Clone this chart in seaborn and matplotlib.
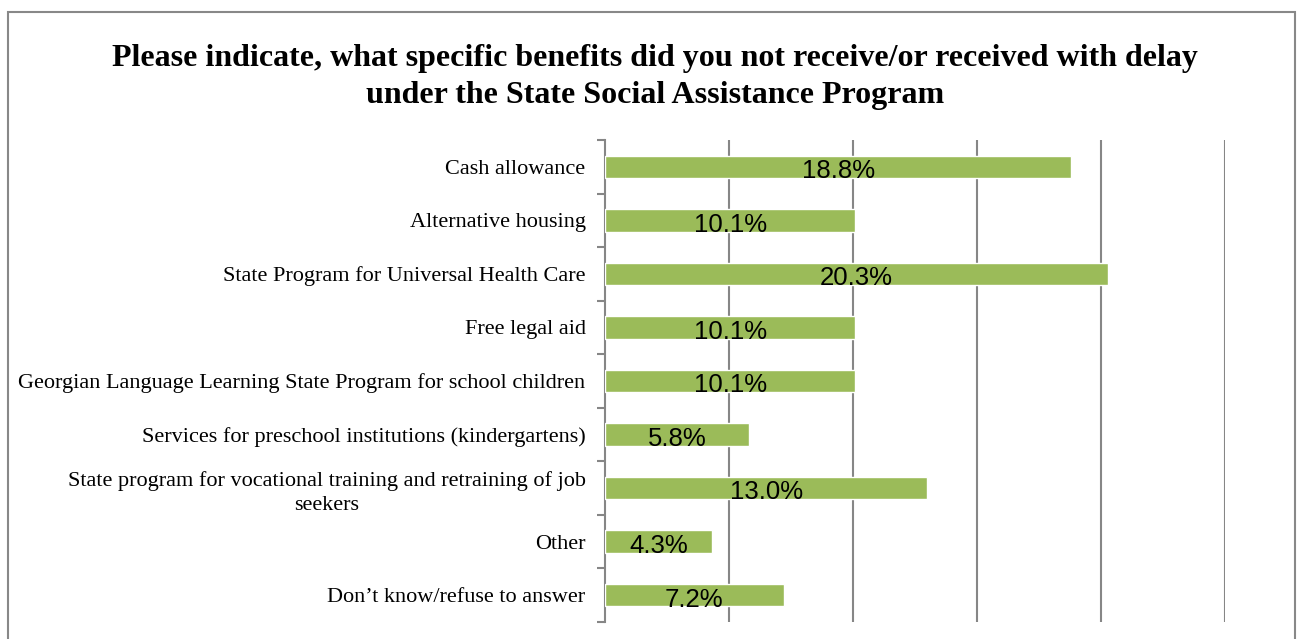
import matplotlib
matplotlib.use("Agg")
import matplotlib.pyplot as plt
from matplotlib.patches import Rectangle
import seaborn as sns
import pandas as pd
import numpy as np

categories = [
    "Cash allowance",
    "Alternative housing",
    "State Program for Universal Health Care",
    "Free legal aid",
    "Georgian Language Learning State Program for school children",
    "Services for preschool institutions (kindergartens)",
    "State program for vocational training and retraining of job\nseekers",
    "Other",
    "Don\u2019t know/refuse to answer",
]
values = [18.8, 10.1, 20.3, 10.1, 10.1, 5.8, 13.0, 4.3, 7.2]
value_labels = ["18.8%", "10.1%", "20.3%", "10.1%", "10.1%", "5.8%", "13.0%", "4.3%", "7.2%"]

title = ("Please indicate, what specific benefits did you not receive/or received with delay\n"
         "under the State Social Assistance Program")

df = pd.DataFrame({"category": categories, "value": values})

sns.set_style("white")
plt.rcParams["font.family"] = ["Liberation Serif", "DejaVu Serif"]
plt.rcParams["text.color"] = "black"

W, H = 1298, 639
fig = plt.figure(figsize=(W / 100, H / 100), dpi=100)
ax = fig.add_axes([605 / W, 1 - 622 / H, (1225 - 605) / W, (622 - 140) / H])

green = "#9BBB59"
grid_c = "#868686"

sns.barplot(data=df, x="value", y="category", order=categories, color=green,
            saturation=1, width=0.42, ax=ax, zorder=3)

ax.set_xlim(0, 25)
ax.set_ylim(len(categories) - 0.5, -0.5)
ax.set_xticks(np.arange(5, 26, 5))
ax.xaxis.grid(True, color=grid_c, linewidth=1.5, zorder=0)
ax.tick_params(axis="x", length=0, labelbottom=False)
ax.set_xlabel("")
ax.set_ylabel("")

for s in ["top", "right", "bottom"]:
    ax.spines[s].set_visible(False)
ax.spines["left"].set_color(grid_c)
ax.spines["left"].set_linewidth(1.5)

# category labels at bar centres, tick marks at category boundaries
ax.set_yticks(range(len(categories)))
ax.set_yticklabels(categories, fontsize=16)
ax.tick_params(axis="y", which="major", left=True, length=0, pad=14, labelcolor="black")
for lbl in ax.get_yticklabels():
    lbl.set_multialignment("center")
    lbl.set_linespacing(1.35)
ax.set_yticks(np.arange(-0.5, len(categories), 1), minor=True)
ax.tick_params(axis="y", which="minor", left=True, length=6, width=1.5,
               color=grid_c, direction="out")

for i, (v, t) in enumerate(zip(values, value_labels)):
    ax.text(v / 2, i + 0.08, t, ha="center", va="center", fontsize=18.5,
            family=["Liberation Sans", "DejaVu Sans"], color="black", zorder=4)

fig.text(655 / W, 1 - 77 / H, title, ha="center", va="center", fontsize=23,
         fontweight="bold", linespacing=1.4, color="black")

fig.patches.append(Rectangle((8 / W, -0.05), (1295 - 8) / W, 1.05 - 12 / H,
                             transform=fig.transFigure, fill=False,
                             edgecolor="#888888", linewidth=1.5))

fig.savefig("out.png", dpi=100)
